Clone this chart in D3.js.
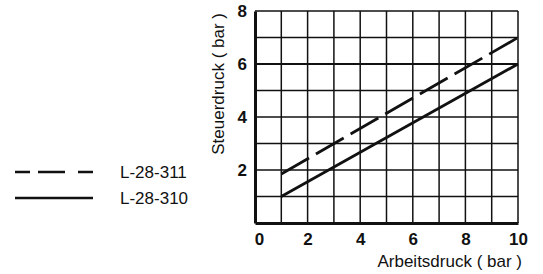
<!DOCTYPE html>
<html>
<head>
<meta charset="utf-8">
<script src="https://cdn.jsdelivr.net/npm/d3@7"></script>
<style>
  body { margin: 0; background: #fff; }
  svg { display: block; font-family: "Liberation Sans", Arial, sans-serif; }
</style>
</head>
<body>
<svg id="chart" width="543" height="274"></svg>
<script>
// data
var seriesNames = ["L-28-311", "L-28-310"];
var arbeitsdruck = [1, 10];
var steuerdruck311 = [1.85, 7];
var steuerdruck310 = [1, 6];
var xTicks = [0, 2, 4, 6, 8, 10];
var yTicks = [2, 4, 6, 8];

var svg = d3.select("#chart"),
    margin = {top: 11, right: 25, bottom: 51, left: 255},
    width = 543 - margin.left - margin.right,
    height = 274 - margin.top - margin.bottom,
    g = svg.append("g").attr("transform", "translate(" + margin.left + "," + margin.top + ")");

var xScale = d3.scaleLinear().domain([0, 10]).range([0, width]),
    yScale = d3.scaleLinear().domain([0, 8]).range([height, 0]);

// grid
g.append("g").selectAll("line")
  .data(d3.range(1, 11))
  .enter().append("line")
    .attr("x1", function(d) { return xScale(d); })
    .attr("x2", function(d) { return xScale(d); })
    .attr("y1", 0).attr("y2", height)
    .attr("stroke", "#111").attr("stroke-width", 1.5);

g.append("g").selectAll("line")
  .data(d3.range(1, 9))
  .enter().append("line")
    .attr("y1", function(d) { return yScale(d); })
    .attr("y2", function(d) { return yScale(d); })
    .attr("x1", 0).attr("x2", width)
    .attr("stroke", "#111")
    .attr("stroke-width", function(d) { return d === 6 ? 2.2 : 1.5; });

// axes
var xAxis = d3.axisBottom(xScale).tickValues(xTicks).tickSize(0).tickPadding(10);
var yAxis = d3.axisLeft(yScale).tickValues(yTicks).tickSize(0).tickPadding(8);

g.append("g")
    .attr("class", "axis axis--x")
    .attr("transform", "translate(0," + height + ")")
    .call(xAxis);

g.append("g")
    .attr("class", "axis axis--y")
    .call(yAxis);

g.selectAll(".axis .domain").attr("stroke", "#111").attr("stroke-width", 3);
g.selectAll(".axis text")
    .attr("fill", "#111")
    .style("font-size", "17px")
    .style("font-weight", "bold");
g.select(".axis--x .tick text").attr("dx", 4);

// axis titles
g.append("text")
    .attr("x", width + 4)
    .attr("y", height + 44)
    .attr("text-anchor", "end")
    .attr("fill", "#111")
    .style("font-size", "17px")
    .text("Arbeitsdruck ( bar )");

g.append("text")
    .attr("transform", "translate(-31,0) rotate(-90)")
    .attr("x", -2)
    .attr("y", 0)
    .attr("text-anchor", "end")
    .attr("fill", "#111")
    .style("font-size", "17px")
    .text("Steuerdruck ( bar )");

// lines
var line = d3.line()
    .x(function(d) { return xScale(d[0]); })
    .y(function(d) { return yScale(d[1]); });

var lines = [
  {name: seriesNames[0], values: d3.zip(arbeitsdruck, steuerdruck311), dash: "32,8"},
  {name: seriesNames[1], values: d3.zip(arbeitsdruck, steuerdruck310), dash: null}
];

g.selectAll(".series")
  .data(lines)
  .enter().append("path")
    .attr("class", "series")
    .attr("d", function(d) { return line(d.values); })
    .attr("fill", "none")
    .attr("stroke", "#111")
    .attr("stroke-width", 2.8)
    .attr("stroke-dasharray", function(d) { return d.dash; });

// legend
var legend = svg.append("g").attr("transform", "translate(15,172)");
var item = legend.selectAll(".item")
  .data(lines)
  .enter().append("g")
    .attr("class", "item")
    .attr("transform", function(d, i) { return "translate(0," + (i * 26) + ")"; });

item.append("line")
    .attr("x1", 0).attr("x2", 78)
    .attr("stroke", "#111")
    .attr("stroke-width", 2.4)
    .attr("stroke-dasharray", function(d) { return d.dash ? "15,8,27,13,15" : null; });

item.append("text")
    .attr("x", 105)
    .attr("dy", "0.35em")
    .attr("fill", "#111")
    .style("font-size", "17px")
    .text(function(d) { return d.name; });
</script>
</body>
</html>
